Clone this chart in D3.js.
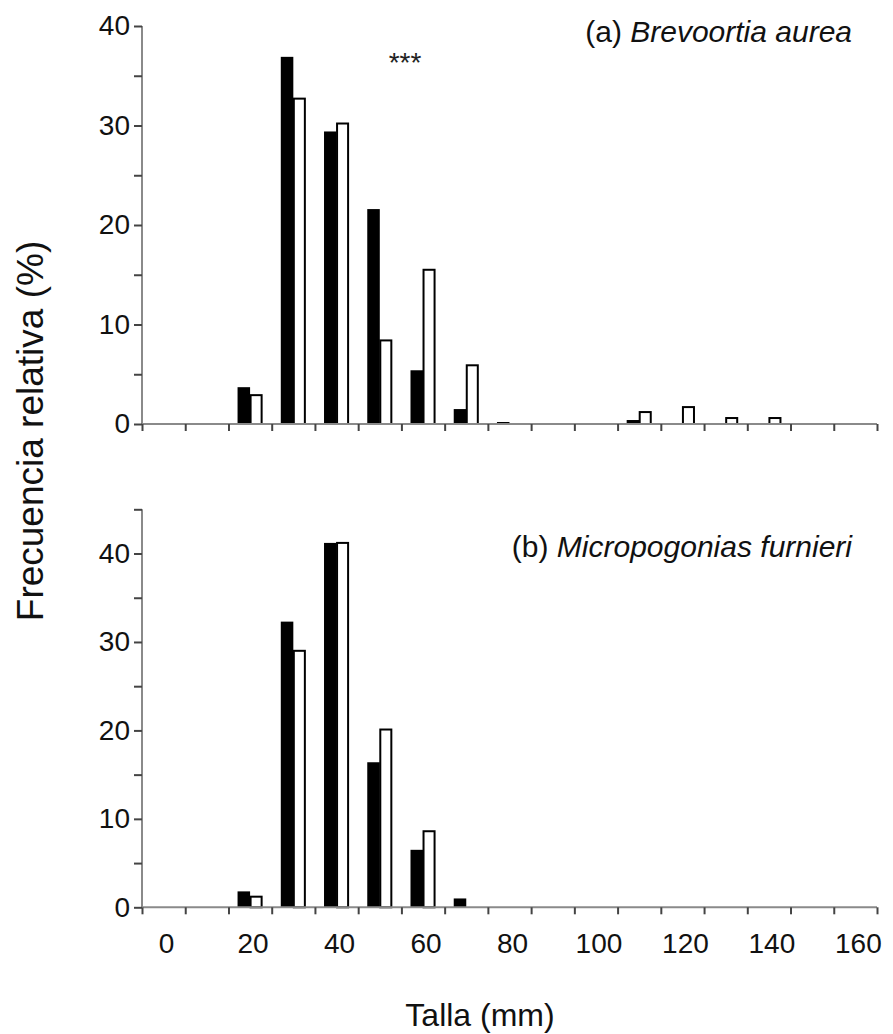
<!DOCTYPE html>
<html>
<head>
<meta charset="utf-8">
<script src="https://cdn.jsdelivr.net/npm/d3@7"></script>
<style>
  html, body { margin: 0; padding: 0; background: #fff; }
  svg { display: block; font-family: "Liberation Sans", Arial, sans-serif; }
</style>
</head>
<body>
<svg id="chart" width="893" height="1034"></svg>
<script>
// ---- Data ----
const tallaClasses = [0, 10, 20, 30, 40, 50, 60, 70, 80, 90, 100, 110, 120, 130, 140, 150, 160];
const xTickLabels = [0, 20, 40, 60, 80, 100, 120, 140, 160];
const brevoortiaBlack = [0, 0, 3.7, 36.9, 29.4, 21.6, 5.4, 1.5, 0.2, 0, 0, 0.4, 0, 0, 0, 0, 0];
const brevoortiaWhite = [0, 0, 2.9, 32.7, 30.2, 8.4, 15.5, 5.9, 0, 0, 0, 1.2, 1.7, 0.6, 0.6, 0, 0];
const micropogoniasBlack = [0, 0, 1.8, 32.3, 41.2, 16.4, 6.5, 1.0, 0, 0, 0, 0, 0, 0, 0, 0, 0];
const micropogoniasWhite = [0, 0, 1.2, 29.0, 41.2, 20.1, 8.6, 0, 0, 0, 0, 0, 0, 0, 0, 0, 0];
const yTicksTop = [0, 10, 20, 30, 40];
const yTicksBottom = [0, 10, 20, 30, 40];
const panelTitles = [["(a) ", "Brevoortia aurea"], ["(b) ", "Micropogonias furnieri"]];

// ---- Layout ----
const svg = d3.select("#chart");
const x = d3.scaleLinear().domain([-5, 165]).range([142, 877]);
const binW = x(10) - x(0);
const barW = binW * 0.29;
const binEdges = d3.range(-5, 166, 10);

const panels = [
  { black: brevoortiaBlack, white: brevoortiaWhite, ymax: 40, y0: 424, y1: 26, labels: yTicksTop, title: panelTitles[0], titleY: 42, showX: false },
  { black: micropogoniasBlack, white: micropogoniasWhite, ymax: 45, y0: 907.3, y1: 509.3, labels: yTicksBottom, title: panelTitles[1], titleY: 557, showX: true }
];

panels.forEach(p => {
  const y = d3.scaleLinear().domain([0, p.ymax]).range([p.y0, p.y1]);
  const g = svg.append("g");

  const data = tallaClasses.map((c, i) => ({ c, b: p.black[i], w: p.white[i] }));

  // black bars
  g.selectAll("rect.blk").data(data.filter(d => d.b > 0)).join("rect")
    .attr("class", "blk")
    .attr("x", d => x(d.c) - barW)
    .attr("y", d => y(d.b))
    .attr("width", barW)
    .attr("height", d => y(0) - y(d.b))
    .attr("fill", "#000");

  // white bars
  g.selectAll("rect.wht").data(data.filter(d => d.w > 0)).join("rect")
    .attr("class", "wht")
    .attr("x", d => x(d.c) + 0.5)
    .attr("y", d => y(d.w))
    .attr("width", barW - 1.5)
    .attr("height", d => y(0) - y(d.w))
    .attr("fill", "#fff")
    .attr("stroke", "#000")
    .attr("stroke-width", 2);

  // x axis
  const xAxis = d3.axisBottom(x).tickValues(binEdges).tickSize(7).tickFormat("");
  const gx = g.append("g").attr("transform", `translate(0,${p.y0})`).call(xAxis);
  gx.select(".domain").attr("stroke", "#8a8a8a").attr("stroke-width", 2).attr("d", `M${x(-5)},0H${x(165)}`);
  gx.selectAll(".tick line").attr("stroke", "#444").attr("stroke-width", 2);

  if (p.showX) {
    g.selectAll("text.xl").data(xTickLabels).join("text")
      .attr("class", "xl")
      .attr("x", d => x(d) + 3)
      .attr("y", 953)
      .attr("text-anchor", "middle")
      .attr("font-size", 28)
      .attr("fill", "#111")
      .text(d => d);
  }

  // y axis
  const yAxis = d3.axisLeft(y).tickValues(d3.range(0, p.ymax + 0.1, 5)).tickSize(8)
    .tickFormat(d => p.labels.includes(d) ? d : "");
  const gy = g.append("g").attr("transform", `translate(${x(-5)},0)`).call(yAxis);
  gy.select(".domain").attr("stroke", "#8a8a8a").attr("stroke-width", 2).attr("d", `M0,${p.y0}V${p.y1}`);
  gy.selectAll(".tick line").attr("stroke", "#444").attr("stroke-width", 2);
  gy.selectAll(".tick text").attr("font-size", 28).attr("fill", "#111")
    .attr("font-family", "Liberation Sans, Arial, sans-serif").attr("x", -12);

  // panel title
  const t = g.append("text")
    .attr("x", 852).attr("y", p.titleY)
    .attr("text-anchor", "end")
    .attr("font-size", 30)
    .attr("fill", "#111");
  t.append("tspan").text(p.title[0]);
  t.append("tspan").attr("font-style", "italic").text(p.title[1]);
});

// significance marker
svg.append("text").attr("x", 405).attr("y", 72).attr("text-anchor", "middle")
  .attr("font-size", 28).attr("fill", "#222").text("***");

// axis titles
svg.append("text").attr("x", 480).attr("y", 1026).attr("text-anchor", "middle")
  .attr("font-size", 32).attr("fill", "#111").text("Talla (mm)");
svg.append("text").attr("transform", "translate(43,431) rotate(-90)")
  .attr("text-anchor", "middle").attr("font-size", 37).attr("fill", "#111")
  .text("Frecuencia relativa (%)");
</script>
</body>
</html>
